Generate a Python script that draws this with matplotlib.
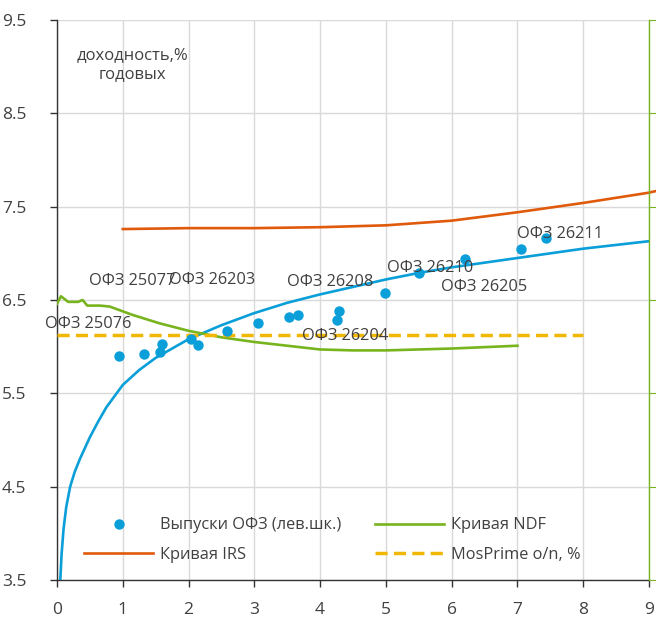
import numpy as np
import matplotlib.pyplot as plt

plt.rcParams['font.family'] = ['Open Sans', 'DejaVu Sans']

# ── ДАННЫЕ ────────────────────────────────────────────────────────────────────
ofz_srok  = [0.94, 1.32, 1.56, 1.59, 2.03, 2.15, 2.59, 3.05, 3.52, 3.67,
             4.25, 4.29, 4.98, 5.51, 6.21, 7.06, 7.44]
ofz_dohod = [5.90, 5.92, 5.94, 6.03, 6.08, 6.02, 6.17, 6.25, 6.32, 6.34,
             6.29, 6.38, 6.57, 6.79, 6.94, 7.05, 7.16]

ofz_krivaya_x = [0.05, 0.07, 0.10, 0.14, 0.20, 0.27, 0.35, 0.50, 0.62, 0.75, 1.0,
                 1.25, 1.5, 2.0, 2.5, 3.0, 3.5, 4.0, 4.5, 5.0, 5.5, 6.0, 6.5,
                 7.0, 7.5, 8.0, 8.5, 9.0]
ofz_krivaya_y = [3.50, 3.78, 4.05, 4.28, 4.50, 4.66, 4.80, 5.03, 5.19, 5.35, 5.59,
                 5.75, 5.88, 6.08, 6.23, 6.36, 6.47, 6.56, 6.64, 6.72, 6.79, 6.85,
                 6.90, 6.95, 7.00, 7.05, 7.09, 7.13]

ndf_x = [0.0, 0.06, 0.17, 0.32, 0.39, 0.46, 0.65, 0.80, 1.15, 1.56, 2.0,
         2.5, 3.0, 3.5, 4.0, 4.5, 5.0, 6.0, 7.0]
ndf_y = [6.46, 6.54, 6.48, 6.48, 6.50, 6.44, 6.44, 6.43, 6.34, 6.25, 6.17,
         6.10, 6.05, 6.01, 5.97, 5.96, 5.96, 5.98, 6.01]

irs_x = [1, 2, 3, 4, 5, 6, 7, 8, 9, 9.12]
irs_y = [7.26, 7.27, 7.27, 7.28, 7.30, 7.35, 7.44, 7.54, 7.65, 7.67]

mosprime_x = [0, 8]
mosprime_y = [6.13, 6.13]

podpisi = ['ОФЗ 25077', 'ОФЗ 26203', 'ОФЗ 25076', 'ОФЗ 26208',
           'ОФЗ 26204', 'ОФЗ 26210', 'ОФЗ 26205', 'ОФЗ 26211']
# положение подписей (левый край, центр по вертикали)
podpisi_xy = [(0.49, 6.70), (1.70, 6.71), (-0.18, 6.24), (3.49, 6.69),
              (3.73, 6.11), (5.01, 6.84), (5.84, 6.64), (6.99, 7.21)]

# ── ЦВЕТА ─────────────────────────────────────────────────────────────────────
SINIY  = '#0a9fd8'
ZELEN  = '#78b41e'
KRASN  = '#e05a0c'
ZHELT  = '#f0b705'
TEKST  = '#404040'
SETKA  = '#d9d9d9'

# ── ГРАФИК ────────────────────────────────────────────────────────────────────
fig = plt.figure(figsize=(6.56, 6.21), dpi=100)
ax = fig.add_axes([57 / 656, 1 - 580 / 621, 592 / 656, 560 / 621])

ax.plot(ofz_krivaya_x, ofz_krivaya_y, color=SINIY, lw=1.9, zorder=3)
ax.plot(irs_x, irs_y, color=KRASN, lw=1.9, zorder=3, clip_on=False,
        label='Кривая IRS')
ax.plot(ndf_x, ndf_y, color=ZELEN, lw=1.9, zorder=3, label='Кривая NDF')
ax.plot(mosprime_x, mosprime_y, color=ZHELT, lw=2.5, dashes=(3.5, 1.8),
        zorder=3, label='MosPrime o/n, %')
ax.plot(ofz_srok, ofz_dohod, 'o', color=SINIY, ms=7.5, mew=0, zorder=4,
        label='Выпуски ОФЗ (лев.шк.)')

for txt, (x, y) in zip(podpisi, podpisi_xy):
    ax.text(x, y, txt, fontsize=11.8, color=TEKST, ha='left', va='center',
            zorder=5, clip_on=False)

ax.text(1.15, 9.02, 'доходность,%\nгодовых', fontsize=12, color=TEKST,
        ha='center', va='center', linespacing=1.3)

ax.set_xlim(0, 9)
ax.set_ylim(3.5, 9.5)
ax.set_xticks(range(0, 10))
ax.set_yticks(np.arange(3.5, 9.6, 1.0))
ax.set_yticklabels([f'{v:.1f}' for v in np.arange(3.5, 9.6, 1.0)])
ax.grid(True, color=SETKA, lw=1)
ax.set_axisbelow(True)

for s in ['top', 'right']:
    ax.spines[s].set_visible(False)
for s in ['left', 'bottom']:
    ax.spines[s].set_color('#333333')
    ax.spines[s].set_linewidth(1)

ax.tick_params(axis='x', direction='out', length=5, width=1, color='#333333',
               labelsize=12.5, labelcolor=TEKST, pad=11)
ax.tick_params(axis='y', direction='out', length=5, width=1, color='#333333',
               labelsize=12.5, labelcolor=TEKST, pad=17)

# правая ось (зелёная)
ax2 = ax.twinx()
ax2.set_ylim(3.5, 9.5)
ax2.set_yticks(np.arange(3.5, 9.6, 1.0))
ax2.tick_params(axis='y', direction='out', length=6, color=ZELEN,
                labelright=False)
for s in ['top', 'left', 'bottom']:
    ax2.spines[s].set_visible(False)
ax2.spines['right'].set_color(ZELEN)
ax2.spines['right'].set_linewidth(1)

# ── ЛЕГЕНДА ───────────────────────────────────────────────────────────────────
h, l = ax.get_legend_handles_labels()
poryadok = [3, 0, 1, 2]
leg = ax.legend([h[i] for i in poryadok], [l[i] for i in poryadok],
                ncol=2, frameon=False, fontsize=11.8, handlelength=4.2,
                handletextpad=0.42, columnspacing=2.08, labelspacing=0.85,
                loc='center left', bbox_to_anchor=(0.021, 0.071),
                labelcolor=TEKST)

fig.savefig('out.png', dpi=100)
